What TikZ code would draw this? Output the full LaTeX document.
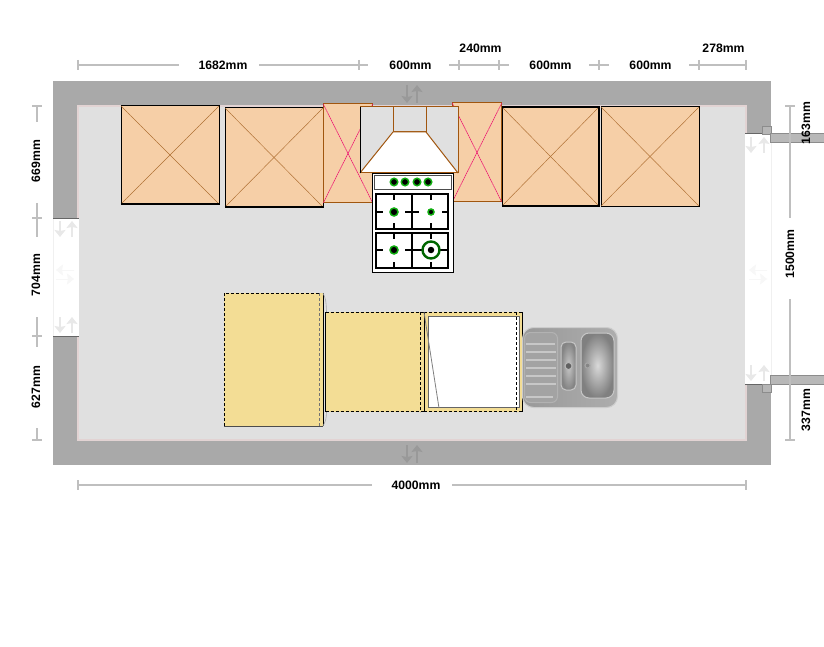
\documentclass[tikz,border=0pt]{standalone}
\usepackage{fontspec}
\setmainfont{Liberation Sans}
\usepackage{tikz}
\usetikzlibrary{positioning, arrows.meta}
\definecolor{wallgrey}{HTML}{A9A9A9}
\definecolor{floorgrey}{HTML}{E0E0E0}
\definecolor{unitpeach}{HTML}{F6CFA7}
\definecolor{unitbrown}{HTML}{A0560F}
\definecolor{baseyellow}{HTML}{F3DD95}
\definecolor{hobgreen}{HTML}{12B012}
\tikzstyle{wallunit} = [rectangle, outer sep=0pt, inner sep=0pt, draw=black, line width=1pt, fill=unitpeach]
\tikzstyle{cornerunit} = [wallunit, draw=unitbrown]
\tikzstyle{baseunit} = [rectangle, outer sep=0pt, inner sep=0pt, fill=baseyellow]
\tikzstyle{crossline} = [draw=unitbrown!85, line width=0.5pt, dash pattern=on 2pt off 0.3pt]
\tikzstyle{pinkline} = [draw=magenta!70!red, line width=0.5pt, dash pattern=on 2pt off 0.5pt]
\tikzstyle{dimline} = [draw=black!25, line width=1.9pt]
\tikzstyle{dimlabel} = [font=\bfseries\fontsize{12.2}{12}\selectfont, inner sep=0pt, text=black]
\tikzstyle{flip} = [-{Stealth[length=7pt,width=11pt,inset=1pt]}, line width=2.4pt]
\tikzstyle{hobtick} = [black, line width=1.2pt]
\tikzstyle{knob} = [circle, draw=hobgreen, fill=black, line width=1.5pt, inner sep=0pt]
\tikzstyle{sinkbowl} = [rectangle, rounded corners=6pt, line width=1pt, outer sep=0pt, inner sep=0pt]
\begin{document}
\begin{tikzpicture}[x=1pt,y=-1pt]
    \useasboundingbox (0,0) rectangle (824,647);

    % Walls and floor
    \fill [wallgrey] (53,81) rectangle (771,465);
    \draw [fill=floorgrey, draw=red!6!floorgrey, line width=1.2pt] (78,106) rectangle (746,440);
    \fill [white] (53,218) rectangle (79,336);
    \fill [white] (745,134) rectangle (771,384);
    \draw [black!6, line width=0.5pt] (53,218) -- (53,336);
    \draw [black!6, line width=0.5pt] (771,134) -- (771,384);
    \draw [black!60, line width=1pt] (53,218) -- (79,218);
    \draw [black!60, line width=1pt] (53,336) -- (79,336);
    \draw [black!60, line width=1pt] (745,134) -- (762,134);
    \draw [black!60, line width=1pt] (745,384) -- (762,384);

    % Window frames
    \fill [wallgrey!85!white, draw=black!45, line width=0.5pt] (762,126) rectangle (771,134);
    \fill [wallgrey!85!white, draw=black!45, line width=0.5pt] (762,384) rectangle (771,392);
    \fill [black!28, draw=black!45, line width=0.5pt] (770,133) rectangle (825,142);
    \fill [black!28, draw=black!45, line width=0.5pt] (770,375) rectangle (825,384);

    % Flip arrows
    \draw [flip, black!40] (407,85) -- (407,103);
    \draw [flip, black!40] (417,103) -- (417,85);
    \draw [flip, black!40] (407,445) -- (407,463);
    \draw [flip, black!40] (417,463) -- (417,445);
    \draw [flip, black!9] (60,221) -- (60,237);
    \draw [flip, black!9] (72,237) -- (72,221);
    \draw [flip, black!9] (60,317) -- (60,333);
    \draw [flip, black!9] (72,333) -- (72,317);
    \draw [flip, black!9] (751,137) -- (751,153);
    \draw [flip, black!9] (764,153) -- (764,137);
    \draw [flip, black!9] (751,365) -- (751,381);
    \draw [flip, black!9] (764,381) -- (764,365);
    \draw [flip, black!3, line width=1pt] (74,270) -- (56,270);
    \draw [flip, black!3, line width=1pt] (56,279) -- (74,279);
    \draw [flip, black!3, line width=1pt] (767,270) -- (749,270);
    \draw [flip, black!3, line width=1pt] (749,279) -- (767,279);

    % Wall units
    \node (wallA) [wallunit, minimum width=98pt, minimum height=98pt] at (170,155) {};
    \node (wallB) [wallunit, minimum width=98pt, minimum height=99pt] at (274,157.5) {};
    \node (wallE) [wallunit, minimum width=97pt, minimum height=99pt] at (550.5,156.5) {};
    \node (wallF) [wallunit, minimum width=98pt, minimum height=99pt] at (650,156.5) {};
    \draw [crossline] (wallA.north west) -- (wallA.south east);
    \draw [crossline] (wallA.north east) -- (wallA.south west);
    \draw [crossline] (wallB.north west) -- (wallB.south east);
    \draw [crossline] (wallB.north east) -- (wallB.south west);
    \draw [crossline] (wallE.north west) -- (wallE.south east);
    \draw [crossline] (wallE.north east) -- (wallE.south west);
    \draw [crossline] (wallF.north west) -- (wallF.south east);
    \draw [crossline] (wallF.north east) -- (wallF.south west);
    \draw [black, line width=1.5pt] (wallA.south west) -- (wallA.south east);
    \draw [black, line width=2pt] (wallB.south west) -- (wallB.south east);
    \draw [black, line width=2pt] (wallE.north west) -- (wallE.north east) -- (wallE.south east) -- (wallE.south west);

    % Corner units
    \node (cornerL) [cornerunit, minimum width=49.5pt, minimum height=99pt] at (348,153.5) {};
    \node (cornerR) [cornerunit, minimum width=49.5pt, minimum height=99pt] at (477,152.5) {};
    \draw [pinkline] (cornerL.north west) -- (cornerL.south east);
    \draw [pinkline] (cornerL.north east) -- (cornerL.south west);
    \draw [pinkline] (cornerR.north west) -- (cornerR.south east);
    \draw [pinkline] (cornerR.north east) -- (cornerR.south west);

    % Cooker
    \node (cooker) [rectangle, draw=black, fill=white, line width=0.8pt, outer sep=0pt, inner sep=0pt, minimum width=81pt, minimum height=99pt] at (412.5,222.5) {};
    \node (panel) [rectangle, draw=black!70, fill=white, line width=0.8pt, outer sep=0pt, inner sep=0pt, minimum width=77pt, minimum height=14pt] at (412.5,182) {};
    \node (hobtop) [rectangle, draw=black, fill=white, line width=1.4pt, inner sep=0pt, minimum width=72pt, minimum height=35pt] at (412,211.5) {};
    \node (hobbottom) [rectangle, draw=black, fill=white, line width=1.4pt, inner sep=0pt, minimum width=72pt, minimum height=35pt] at (412,250.5) {};
    \draw [black, line width=1.2pt] (hobtop.north) -- (hobtop.south);
    \draw [black, line width=1.2pt] (hobbottom.north) -- (hobbottom.south);
    \draw [hobtick] (376,212) -- (383,212) (405,212) -- (419,212) (442,212) -- (448,212);
    \draw [hobtick] (376,250) -- (383,250) (405,250) -- (448,250);
    \draw [hobtick] (394,194) -- (394,200) (394,223) -- (394,229) (431,194) -- (431,200) (431,223) -- (431,229);
    \draw [hobtick] (394,233) -- (394,239) (394,262) -- (394,268) (431,233) -- (431,239) (431,262) -- (431,268);

    % Burners and knobs
    \node (burnerA) [knob, minimum size=8pt] at (394,212) {};
    \node (burnerB) [knob, minimum size=6pt] at (431,212) {};
    \node (burnerC) [knob, minimum size=8pt] at (394,250) {};
    \node (burnerD) [circle, draw=green!40!black, fill=white, line width=2.4pt, inner sep=0pt, minimum size=17pt] at (431,250) {};
    \node (burnerDin) [circle, fill=black, inner sep=0pt, minimum size=6.5pt] at (burnerD) {};
    \node (knobA) [knob, minimum size=7.5pt] at (394,182) {};
    \node (knobB) [knob, minimum size=7.5pt] at (405,182) {};
    \node (knobC) [knob, minimum size=7.5pt] at (417,182) {};
    \node (knobD) [knob, minimum size=7.5pt] at (428,182) {};

    % Hood
    \node (hood) [rectangle, draw=unitbrown, fill=floorgrey, line width=1pt, outer sep=0pt, inner sep=0pt, minimum width=98pt, minimum height=66pt] at (409,140) {};
    \node (duct) [rectangle, draw=unitbrown, fill=floorgrey, line width=1pt, outer sep=0pt, inner sep=0pt, minimum width=33pt, minimum height=25pt] at (409.5,119.5) {};
    \draw [fill=white, draw=none] (duct.south west) -- (duct.south east) -- (hood.south east) -- (hood.south west) -- cycle;
    \draw [unitbrown, line width=1pt] (hood.south west) -- (duct.south west) -- (duct.south east) -- (hood.south east);
    \draw [unitbrown, line width=1pt] (hood.south west) -- (hood.south east);
    \draw [black, line width=1pt] (hood.north west) -- (hood.south west);

    % Base units
    \node (baseA) [baseunit, minimum width=99pt, minimum height=133pt] at (273.5,359.5) {};
    \draw [black, line width=0.8pt, densely dashed] (baseA.south west) -- (baseA.north west) -- (319,293);
    \draw [black, line width=0.8pt, densely dashed] (baseA.south west) -- (319,426);
    \draw [black!55, line width=0.8pt, densely dashed] (319,293) -- (319,426);
    \draw [black!70, line width=0.6pt] (baseA.south west) -- (baseA.south east);
    \draw [black, line width=1pt] (baseA.north east) -- (baseA.south east);
    \draw [black!35, line width=0.6pt] (baseA.north east) .. controls (326,300) .. (326.5,312);
    \draw [black!35, line width=0.6pt] (baseA.south east) .. controls (326,420) .. (326.5,412);

    \node (baseB) [baseunit, minimum width=99pt, minimum height=99.5pt] at (375,362) {};
    \draw [black, line width=1pt] (baseB.north west) -- (baseB.south west);
    \draw [black, line width=0.8pt, densely dashed] (baseB.north west) -- (baseB.north east);
    \draw [black, line width=0.8pt, densely dashed] (baseB.south west) -- (baseB.south east);
    \draw [black, line width=0.8pt, densely dashed] (420,312) -- (420,412);

    \node (baseC) [baseunit, minimum width=98pt, minimum height=99.5pt] at (473,362) {};
    \node (baseCdoor) [rectangle, draw=black!60, fill=white, line width=0.7pt, outer sep=0pt, inner sep=0pt, minimum width=91pt, minimum height=91pt] at (473.5,361.5) {};
    \draw [black, line width=0.8pt, densely dashed] (baseC.north west) -- (baseC.north east);
    \draw [black, line width=0.8pt, densely dashed] (baseC.south west) -- (baseC.south east);
    \draw [black, line width=0.8pt, densely dashed] (516,312) -- (516,412);
    \draw [black, line width=0.8pt] (baseC.north west) -- (baseC.south west);
    \draw [black, line width=0.6pt] (baseC.north east) -- (baseC.south east);
    \draw [black!50, line width=0.8pt] (baseC.north west) -- (439,408);

    % Sink
    \node (sink) [sinkbowl, rounded corners=11pt, left color=black!40, right color=black!32, draw=black!20, minimum width=95pt, minimum height=80pt] at (570,367.5) {};
    \node (drainer) [sinkbowl, rounded corners=6pt, fill=black!36, draw=black!30, minimum width=33pt, minimum height=70pt] at (541,367.5) {};
    \draw [black!22, line width=1.4pt] (526,344) -- (555,344) (526,352) -- (556,352) (526,360) -- (556,360);
    \draw [black!22, line width=1.4pt] (526,368) -- (556,368) (526,376) -- (556,376) (526,384) -- (556,384);
    \draw [black!22, line width=1.4pt] (526,397) -- (553,397);
    \node (bowlS) [sinkbowl, rounded corners=5pt, inner color=black!22, outer color=black!48, draw=black!22, minimum width=15pt, minimum height=48pt] at (568.5,366) {};
    \node (bowlL) [sinkbowl, rounded corners=8pt, inner color=black!15, outer color=black!50, draw=black!22, minimum width=33pt, minimum height=65pt] at (597.5,365.5) {};
    \node (drainS) [circle, fill=black!62, draw=black!28, line width=1pt, inner sep=0pt, minimum size=7pt] at (568.5,366) {};
    \node (drainL) [circle, fill=black!48, draw=black!35, line width=1pt, inner sep=0pt, minimum size=5pt] at (587.5,365.5) {};

    % Dimensions, top
    \coordinate (topA) at (78,65);
    \coordinate (topAb) at (179,65);
    \coordinate (topAc) at (259,65);
    \coordinate (topB) at (368,65);
    \coordinate (topC) at (449,65);
    \coordinate (topD) at (509,65);
    \coordinate (topE) at (589,65);
    \coordinate (topF) at (609,65);
    \coordinate (topG) at (689,65);
    \coordinate (topH) at (746,65);
    \node (dim1682) [dimlabel] at (223,65) {1682mm};
    \node (dim600a) [dimlabel] at (410.5,65) {600mm};
    \node (dim240) [dimlabel] at (480.5,48) {240mm};
    \node (dim600b) [dimlabel] at (550.5,65) {600mm};
    \node (dim600c) [dimlabel] at (650.5,65) {600mm};
    \node (dim278) [dimlabel] at (723.5,48) {278mm};
    \draw [dimline] (topA) -- (topAb);
    \draw [dimline] (topAc) -- (topB);
    \draw [dimline] (topC) -- (topD);
    \draw [dimline] (topE) -- (topF);
    \draw [dimline] (topG) -- (topH);
    \draw [dimline] (78,60) -- (78,70);
    \draw [dimline] (359,60) -- (359,70);
    \draw [dimline] (459,60) -- (459,70);
    \draw [dimline] (499,60) -- (499,70);
    \draw [dimline] (599,60) -- (599,70);
    \draw [dimline] (699,60) -- (699,70);
    \draw [dimline] (746,60) -- (746,70);

    % Dimensions, bottom
    \coordinate (botA) at (78,485);
    \coordinate (botAb) at (372,485);
    \coordinate (botAc) at (452,485);
    \coordinate (botB) at (746,485);
    \node (dim4000) [dimlabel] at (416,485) {4000mm};
    \draw [dimline] (botA) -- (botAb);
    \draw [dimline] (botAc) -- (botB);
    \draw [dimline] (78,480) -- (78,490);
    \draw [dimline] (746,480) -- (746,490);

    % Dimensions, left
    \coordinate (lefA) at (37,106);
    \coordinate (lefB) at (37,122);
    \coordinate (lefC) at (37,203);
    \coordinate (lefD) at (37,237);
    \coordinate (lefE) at (37,317);
    \coordinate (lefF) at (37,347);
    \coordinate (lefG) at (37,428);
    \coordinate (lefH) at (37,440);
    \node (dim669) [dimlabel, rotate=90] at (36,161) {669mm};
    \node (dim704) [dimlabel, rotate=90] at (36,275) {704mm};
    \node (dim627) [dimlabel, rotate=90] at (36,387) {627mm};
    \draw [dimline] (lefA) -- (lefB);
    \draw [dimline] (lefC) -- (lefD);
    \draw [dimline] (lefE) -- (lefF);
    \draw [dimline] (lefG) -- (lefH);
    \draw [dimline] (32,106) -- (42,106);
    \draw [dimline] (32,218) -- (42,218);
    \draw [dimline] (32,336) -- (42,336);
    \draw [dimline] (32,440) -- (42,440);

    % Dimensions, right
    \coordinate (rigA) at (790,106);
    \coordinate (rigAb) at (790,218);
    \coordinate (rigBb) at (790,299);
    \coordinate (rigB) at (790,440);
    \node (dim1500) [dimlabel, rotate=90] at (790,254) {1500mm};
    \node (dim163) [dimlabel, rotate=90] at (806,123) {163mm};
    \node (dim337) [dimlabel, rotate=90] at (806,410) {337mm};
    \draw [dimline] (rigA) -- (rigAb);
    \draw [dimline] (rigBb) -- (rigB);
    \draw [dimline] (785,106) -- (795,106);
    \draw [dimline] (785,440) -- (795,440);

\end{tikzpicture}
\end{document}
